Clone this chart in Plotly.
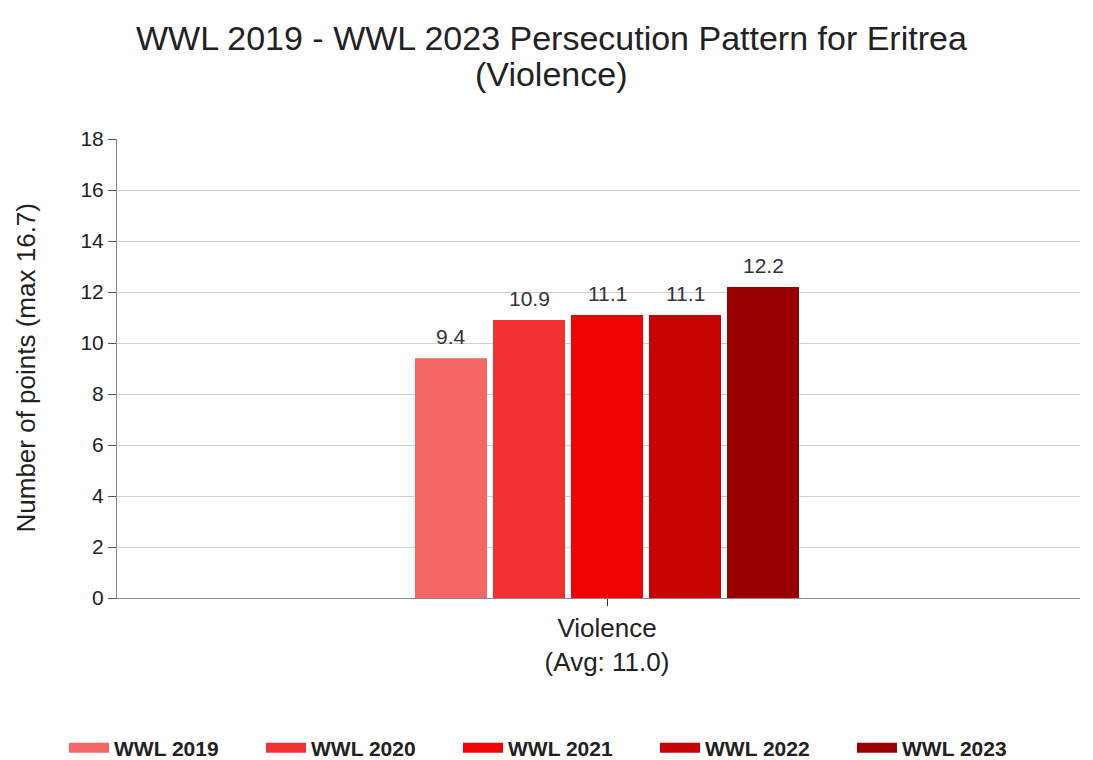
import plotly.graph_objects as go

categories = ["Violence<br>(Avg: 11.0)"]
series_names = ["WWL 2019", "WWL 2020", "WWL 2021", "WWL 2022", "WWL 2023"]
series_values = [[9.4], [10.9], [11.1], [11.1], [12.2]]
series_colors = ["#F26666", "#F23232", "#F00303", "#C80303", "#980000"]
y_ticks = [0, 2, 4, 6, 8, 10, 12, 14, 16, 18]

FONT = "Liberation Sans, Arial"
BARGAP = 0.595
GROUPGAP = 0.077

fig = go.Figure()
n = len(series_names)
slot = (1 - BARGAP) / n
for i, (name, vals, col) in enumerate(zip(series_names, series_values, series_colors)):
    fig.add_trace(go.Bar(
        x=categories, y=vals, name=name, showlegend=False,
        marker=dict(color=col, line=dict(width=0)),
    ))
    # value labels above each bar
    for j, v in enumerate(vals):
        fig.add_annotation(
            x=j + (i - (n - 1) / 2) * slot, y=v, xref="x", yref="y",
            text=f"{v:.1f}", showarrow=False, yanchor="bottom", yshift=8,
            font=dict(size=21, color="#333333", family=FONT),
        )
    # legend entry (wide rectangle swatch)
    fig.add_trace(go.Scatter(
        x=[None], y=[None], mode="lines", name=name,
        line=dict(color=col, width=12), showlegend=True,
    ))

# title as two centered lines
fig.add_annotation(
    x=(551 - 117) / 963, y=1 + (139 - 38) / 459, xref="paper", yref="paper",
    text="WWL 2019 - WWL 2023 Persecution Pattern for Eritrea", showarrow=False,
    xanchor="center", yanchor="middle", font=dict(size=34, color="#222222", family=FONT),
)
fig.add_annotation(
    x=(551 - 117) / 963, y=1 + (139 - 74) / 459, xref="paper", yref="paper",
    text="(Violence)", showarrow=False,
    xanchor="center", yanchor="middle", font=dict(size=34, color="#222222", family=FONT),
)
# y-axis title
fig.add_annotation(
    x=(25 - 117) / 963, y=0.5, xref="paper", yref="paper",
    text="Number of points (max 16.7)", showarrow=False, textangle=-90,
    xanchor="center", yanchor="middle", font=dict(size=26, color="#222222", family=FONT),
)

c = (607 - 117) / 963
fig.update_layout(
    width=1093, height=760,
    margin=dict(l=117, r=13, t=139, b=162, autoexpand=False),
    paper_bgcolor="white", plot_bgcolor="white",
    barmode="group", bargap=BARGAP, bargroupgap=GROUPGAP,
    font=dict(family=FONT, color="#222222"),
    yaxis=dict(
        range=[0, 18], tickvals=y_ticks, ticks="outside", ticklen=8, tickcolor="#555",
        showline=True, linecolor="#888", linewidth=1,
        showgrid=True, gridcolor="#CFCFCF", gridwidth=1, zeroline=False,
        tickfont=dict(size=21, color="#222"),
    ),
    xaxis=dict(
        range=[-c, 1 - c],
        showline=True, linecolor="#888", linewidth=1,
        ticks="outside", ticklen=7, tickcolor="#333",
        tickfont=dict(size=26, color="#222"),
    ),
    legend=dict(
        orientation="h", x=(64 - 117) / 963, xanchor="left",
        y=(598 - 748) / 459, yanchor="middle",
        font=dict(size=21, color="#222", family=FONT, weight="bold"),
        entrywidth=142, entrywidthmode="pixels", itemwidth=40,
        traceorder="normal", bgcolor="rgba(0,0,0,0)",
    ),
)
fig.write_html("out.html")
